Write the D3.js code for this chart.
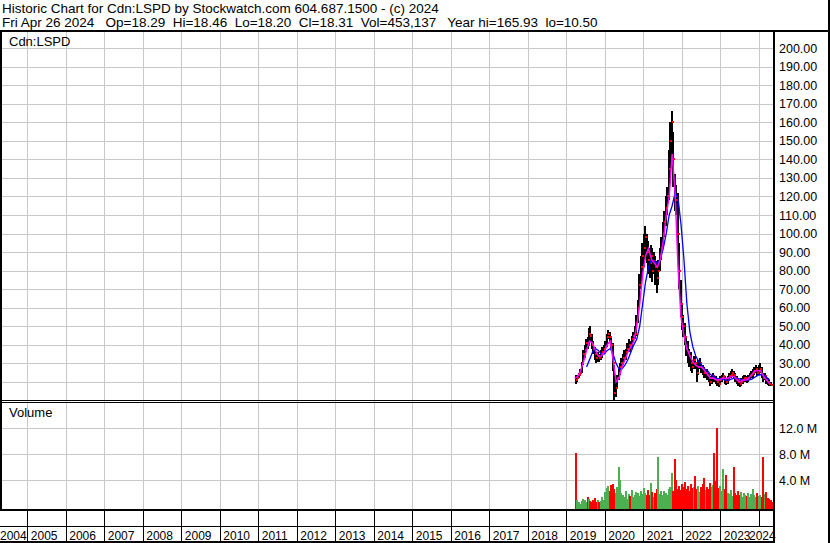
<!DOCTYPE html>
<html>
<head>
<meta charset="utf-8">
<script src="https://cdnjs.cloudflare.com/ajax/libs/d3/7.8.5/d3.min.js"></script>
<style>
body { margin: 0; background: #fff; }
svg { display: block; font-family: "Liberation Sans", Arial, sans-serif; }
</style>
</head>
<body>
<svg id="chart" width="830" height="543"></svg>
<script>
// header text
var title = "Historic Chart for Cdn:LSPD by Stockwatch.com 604.687.1500 - (c) 2024";
var quote = "Fri Apr 26 2024   Op=18.29  Hi=18.46  Lo=18.20  Cl=18.31  Vol=453,137   Year hi=165.93  lo=10.50";

// axis ticks
var priceTicks = [20, 30, 40, 50, 60, 70, 80, 90, 100, 110, 120, 130, 140, 150, 160, 170, 180, 190, 200];
var volTicks = [4e6, 8e6, 12e6];

// bi-weekly bars, 2019-03-22 .. 2024-04-26
var dates = d3.timeDay.range(new Date(2019, 2, 22), new Date(2024, 3, 27), 14);

var close = [21, 22, 24, 25, 30, 35, 37, 41, 40, 46, 45, 40, 38, 35, 33, 34, 33, 35, 36, 38,
  39, 44, 46, 44, 40, 30, 14, 17, 22, 25, 28, 30, 33, 33, 36, 38, 40, 39, 43, 45,
  46, 52, 60, 72, 82, 88, 92, 98, 90, 86, 84, 88, 80, 85, 82, 76, 80, 88, 92, 100,
  106, 114, 120, 135, 150, 160, 140, 120, 118, 100, 80, 62, 55, 50, 44, 38, 36, 34, 30, 28,
  32, 30, 25, 28, 30, 28, 27, 25, 25, 24, 22, 20, 22, 23, 22, 21, 20, 19, 21, 22,
  23, 21, 20, 21, 23, 24, 25, 24, 22, 21, 20, 19, 20, 21, 22, 22, 21, 22, 23, 24,
  25, 26, 27, 25, 26, 27, 24, 22, 23, 21, 20, 19, 18.5, 18.3];
var high = [24, 24, 25, 27, 31, 37, 40, 43, 44, 49, 50, 46, 42, 39, 36, 36, 35, 37, 39, 40,
  42, 46, 48, 47, 45, 41, 29, 21, 24, 27, 30, 33, 35, 37, 38, 41, 43, 42, 45, 47,
  50, 56, 64, 78, 88, 95, 100, 104, 100, 96, 92, 94, 92, 90, 88, 85, 86, 92, 98, 106,
  112, 120, 125, 145, 160, 166, 155, 132, 126, 122, 95, 75, 62, 56, 52, 45, 42, 38, 36, 32,
  34, 34, 31, 32, 33, 31, 29, 28, 27, 27, 25, 23, 24, 25, 24, 23, 22, 21, 23, 24,
  25, 23, 22, 23, 25, 26, 27, 26, 25, 23, 22, 21, 22, 23, 24, 24, 23, 24, 25, 26,
  27, 28, 29, 28, 29, 30, 28, 25, 25, 24, 22, 21, 20, 19];
var low = [19, 20, 22, 23, 25, 29, 33, 36, 38, 40, 42, 38, 35, 32, 30, 31, 31, 32, 33, 35,
  36, 39, 43, 41, 37, 26, 10.5, 12, 16, 21, 24, 27, 29, 31, 32, 35, 37, 36, 38, 41,
  43, 45, 52, 60, 70, 78, 82, 88, 84, 78, 76, 80, 74, 78, 72, 68, 72, 80, 86, 92,
  98, 104, 110, 118, 130, 140, 125, 112, 110, 86, 70, 55, 48, 44, 40, 34, 30, 28, 26, 25,
  27, 27, 20, 24, 27, 25, 24, 22, 22, 21, 20, 18, 19, 21, 20, 19, 18, 17.5, 19, 20,
  21, 19, 18.5, 19, 21, 22, 23, 22, 20, 19, 18, 17.5, 18, 19, 20, 20, 19.5, 20, 21, 22,
  22, 24, 25, 23, 24, 25, 22, 20, 21, 19, 18.5, 18, 18, 18];
// volume in millions
var volume = [8.2, 1.0, 0.6, 0.4, 0.8, 1.2, 0.9, 0.7, 1.5, 1.1, 0.8, 0.6, 0.9, 1.3, 0.7, 1.0, 0.6, 0.8, 1.4, 0.9,
  2.2, 2.8, 3.1, 2.4, 3.3, 3.5, 2.6, 2.0, 2.9, 6.1, 4.0, 2.1, 1.8, 1.5, 2.3, 1.2, 1.9, 1.6, 2.5, 1.4,
  1.8, 2.2, 2.0, 1.6, 2.4, 1.9, 2.8, 2.1, 1.7, 2.5, 1.8, 3.6, 2.2, 1.5, 2.0, 2.6, 7.6, 1.9, 2.4, 1.7,
  2.3, 2.0, 1.8, 2.6, 3.0, 5.1, 2.4, 7.3, 4.0, 2.7, 3.2, 2.5, 3.4, 2.9, 3.8, 2.6, 3.1, 2.4, 3.5, 2.8,
  3.0, 4.7, 2.6, 3.2, 2.2, 2.9, 3.4, 4.3, 2.5, 3.0, 2.7, 3.6, 2.9, 3.3, 8.2, 3.9, 12.0, 2.8, 3.1, 2.4,
  5.8, 2.6, 4.8, 2.1, 1.9, 2.5, 1.6, 6.1, 2.0, 1.8, 2.3, 1.7, 2.2, 1.5, 2.0, 1.8, 1.6, 2.1, 1.4, 1.9,
  2.7, 1.7, 1.5, 2.0, 1.6, 1.8, 1.4, 7.6, 1.9, 2.2, 1.3, 1.2, 0.9, 0.7];

// moving averages, sampled every 4 weeks (every second bar)
var maFast = [22, 23, 26, 31, 37, 42, 41, 37, 34, 34, 36, 40, 42, 32, 20, 22, 28, 32, 36, 39,
  42, 50, 62, 78, 88, 92, 86, 84, 82, 86, 96, 110, 120, 143, 122, 82, 55, 45, 38, 34,
  31, 29, 28, 28, 26, 24, 22, 22, 21, 21, 22, 22, 22, 23, 23, 21, 20, 21, 21, 22,
  24, 26, 26, 26, 23, 21, 19];
var maSlow = [null, null, null, null, 28, 32, 36, 38, 37, 35, 35, 37, 38, 35, 30, 27, 27, 29, 32, 36,
  40, 43, 50, 62, 74, 82, 86, 85, 84, 86, 92, 100, 110, 115, 122, 119, 105, 86, 62, 47,
  39, 34, 31, 29, 27, 26, 24, 23, 22, 21.5, 21.5, 21, 21, 21.5, 22, 22, 21.5, 21, 21, 21,
  21.5, 22.5, 23.5, 24, 23.5, 22.5, 21];
var maDates = dates.filter(function(d, i) { return i % 2 === 0; });

var svg = d3.select("#chart");

// layout
var left = 2, right = 773, priceTop = 31, priceBottom = 400, volTop = 403, volBottom = 509;

var x = d3.scaleTime()
  .domain([new Date(2005, 0, 1), new Date(2024, 0, 1)])
  .range([27.3, 758.8]);
var y = d3.scaleLinear().domain([10, 210]).range([400.5, 29.5]);
var vy = d3.scaleLinear().domain([0, 12e6]).range([506.3, 428.3]);

var years = d3.timeYear.range(new Date(2004, 0, 1), new Date(2025, 0, 1));

function px(v) { return Math.round(v) + 0.5; }

// clip paths
var defs = svg.append("defs");
defs.append("clipPath").attr("id", "clipP").append("rect")
  .attr("x", left).attr("y", priceTop).attr("width", right - left).attr("height", priceBottom - priceTop);
defs.append("clipPath").attr("id", "clipV").append("rect")
  .attr("x", left).attr("y", volTop).attr("width", right - left).attr("height", volBottom - volTop);

// gridlines
var grid = svg.append("g").attr("stroke", "#c8c8c8").attr("stroke-width", 1).attr("shape-rendering", "crispEdges");
grid.selectAll(".vg").data(years.filter(function(d) { return x(d) > left && x(d) < right; }))
  .enter().append("line")
  .attr("x1", function(d) { return px(x(d)); })
  .attr("x2", function(d) { return px(x(d)); })
  .attr("y1", priceTop).attr("y2", volBottom);
grid.selectAll(".hg").data(priceTicks).enter().append("line")
  .attr("x1", left).attr("x2", right)
  .attr("y1", function(d) { return px(y(d)); })
  .attr("y2", function(d) { return px(y(d)); });
grid.selectAll(".vhg").data(volTicks).enter().append("line")
  .attr("x1", left).attr("x2", right)
  .attr("y1", function(d) { return px(vy(d)); })
  .attr("y2", function(d) { return px(vy(d)); });

// price bars
var price = svg.append("g").attr("clip-path", "url(#clipP)").attr("shape-rendering", "crispEdges");
price.selectAll(".bar").data(dates).enter().append("rect")
  .attr("x", function(d) { return Math.round(x(d)); })
  .attr("width", 2)
  .attr("y", function(d, i) { return y(high[i]); })
  .attr("height", function(d, i) { return Math.max(1, y(low[i]) - y(high[i])); })
  .attr("fill", "#000");
price.selectAll(".cl").data(dates).enter().append("rect")
  .attr("x", function(d) { return Math.round(x(d)) + 1; })
  .attr("width", 2)
  .attr("y", function(d, i) { return Math.round(y(close[i])) - 1; })
  .attr("height", 2)
  .attr("fill", "#ff0000");

var line = function(arr) {
  return d3.line()
    .defined(function(d, i) { return arr[i] != null; })
    .x(function(d) { return x(d); })
    .y(function(d, i) { return y(arr[i]); });
};
var maG = svg.append("g").attr("clip-path", "url(#clipP)");
maG.append("path").datum(maDates).attr("fill", "none").attr("stroke", "#0000ff")
  .attr("stroke-width", 1.3).attr("d", line(maSlow));
maG.append("path").datum(maDates).attr("fill", "none").attr("stroke", "#ff00ff")
  .attr("stroke-width", 1.5).attr("d", line(maFast));

// volume bars
var vol = svg.append("g").attr("clip-path", "url(#clipV)").attr("shape-rendering", "crispEdges");
vol.selectAll("rect").data(dates).enter().append("rect")
  .attr("x", function(d) { return Math.round(x(d)); })
  .attr("width", 2)
  .attr("y", function(d, i) { return vy(volume[i] * 1e6); })
  .attr("height", function(d, i) { return volBottom - vy(volume[i] * 1e6); })
  .attr("fill", function(d, i) { return i > 0 && close[i] >= close[i - 1] ? "#4caf50" : "#ff0000"; });

// year labels (2004 pinned to the left edge, 2024 pulled in to fit)
svg.append("g").selectAll("text").data(years.filter(function(d) { return d.getFullYear() <= 2024; }))
  .enter().append("text")
  .attr("x", function(d) {
    var yr = d.getFullYear();
    if (yr === 2004) return 0;
    if (yr === 2024) return 749;
    return x(d) + 3.5;
  })
  .attr("y", 539.5)
  .attr("font-size", "12px")
  .attr("fill", "#000")
  .text(function(d) { return d.getFullYear(); });

// frame lines
var frame = svg.append("g").attr("stroke", "#000").attr("shape-rendering", "crispEdges");
frame.append("line").attr("x1", 0).attr("x2", 830).attr("y1", 30.5).attr("y2", 30.5).attr("stroke-width", 2);
frame.append("line").attr("x1", 1).attr("x2", 1).attr("y1", 30).attr("y2", 510).attr("stroke-width", 2);
frame.append("line").attr("x1", 829).attr("x2", 829).attr("y1", 0).attr("y2", 543).attr("stroke-width", 2);
frame.append("line").attr("x1", 773.5).attr("x2", 773.5).attr("y1", 30).attr("y2", 543).attr("stroke-width", 2);
frame.append("line").attr("x1", 0).attr("x2", 773).attr("y1", 400.5).attr("y2", 400.5);
frame.append("line").attr("x1", 0).attr("x2", 773).attr("y1", 402.5).attr("y2", 402.5);
frame.append("line").attr("x1", 0).attr("x2", 773).attr("y1", 509.5).attr("y2", 509.5).attr("stroke-width", 2);
frame.append("line").attr("x1", 0).attr("x2", 773).attr("y1", 526.5).attr("y2", 526.5);
frame.append("line").attr("x1", 0).attr("x2", 773).attr("y1", 542).attr("y2", 542).attr("stroke-width", 2);
frame.selectAll(".ys").data(years.filter(function(d) { return x(d) > 0 && x(d) < 750; }))
  .enter().append("line")
  .attr("x1", function(d) { return px(x(d)); })
  .attr("x2", function(d) { return px(x(d)); })
  .attr("y1", 510).attr("y2", 542);
frame.append("line").attr("x1", px(x(new Date(2024, 0, 1)))).attr("x2", px(x(new Date(2024, 0, 1))))
  .attr("y1", 510).attr("y2", 526);

// price axis labels
var pAxis = svg.append("g").attr("transform", "translate(774,0)")
  .call(d3.axisRight(y).tickValues(priceTicks).tickSize(0).tickPadding(5).tickFormat(d3.format(".2f")));
var vAxis = svg.append("g").attr("transform", "translate(774,0)")
  .call(d3.axisRight(vy).tickValues(volTicks).tickSize(0).tickPadding(5)
    .tickFormat(function(d) { return (d / 1e6).toFixed(1) + " M"; }));
[pAxis, vAxis].forEach(function(a) {
  a.select(".domain").remove();
  a.selectAll("text").attr("font-size", "12.5px").attr("font-family", "Liberation Sans, Arial, sans-serif").attr("fill", "#000");
});

// titles
svg.append("text").attr("x", 2).attr("y", 13).attr("font-size", "13.5px").text(title);
svg.append("text").attr("x", 2).attr("y", 27).attr("font-size", "13.5px").attr("xml:space", "preserve")
  .style("white-space", "pre").text(quote);
svg.append("text").attr("x", 9).attr("y", 46).attr("font-size", "13px").text("Cdn:LSPD");
svg.append("text").attr("x", 9).attr("y", 417).attr("font-size", "13px").text("Volume");
</script>
</body>
</html>
